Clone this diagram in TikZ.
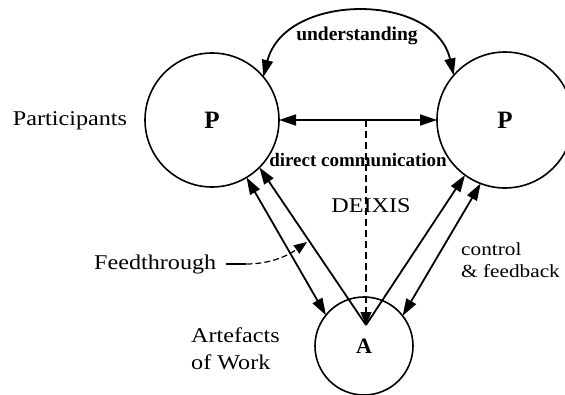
\documentclass[tikz,border=0pt]{standalone}
\usepackage{fontspec}
\setmainfont{Liberation Serif}[FakeStretch=1.15]
\newfontfamily\plainserif{Liberation Serif}
\usetikzlibrary{arrows.meta}
\begin{document}
\begin{tikzpicture}[x=1pt,y=-1pt,
  >={Triangle[length=17pt,width=11pt]},
  circ/.style={circle, draw, line width=1.6pt, inner sep=0pt, outer sep=0pt},
  conn/.style={line width=1.8pt},
  lbl/.style={font=\fontsize{21}{22}\selectfont, inner sep=0pt, anchor=base},
  smalllbl/.style={font=\fontsize{18.5}{20}\selectfont, inner sep=0pt, anchor=base west},
  boldlbl/.style={font=\plainserif\bfseries\fontsize{19.5}{20}\selectfont, inner sep=0pt, anchor=base},
  bigletter/.style={font=\plainserif\bfseries\fontsize{25}{25}\selectfont}
]
\useasboundingbox (0,0) rectangle (565,394);
\clip (0,0) rectangle (565,394);

% circles
\node[circ, minimum size=134pt, bigletter] (PL) at (212,120) {P};
\node[circ, minimum size=136pt, bigletter] (PR) at (505,120) {P};
\node[circ, minimum size=98pt, font=\plainserif\bfseries\fontsize{22}{22}\selectfont] (A) at (364,346) {A};

% helper coordinates
\coordinate (dtop) at (366,120);
\coordinate (deix) at (366,325);
\coordinate (ftend) at (307,242);

% connectors
\draw[conn,<->] (PL.east) -- (PR.west);
\draw[conn,<->] (PL.40) .. controls (285,-8) and (435,-8) .. (PR.139);
\draw[line width=1.1pt, dash pattern=on 7pt off 4pt, -{Triangle[length=13pt,width=11pt]}] (dtop) -- (deix);
\draw[conn,<->] (PL.-59) -- (A.141);
\draw[conn,->] (deix) -- (PL.-45);
\draw[conn,->] (deix) -- (PR.-126);
\draw[conn,<->] (PR.-111) -- (A.38);

% labels
\node[boldlbl] (und) at (357,40) {understanding};
\node[lbl] (part) at (70,125) {Participants};
\node[boldlbl, font=\plainserif\bfseries\fontsize{19}{20}\selectfont] (dc) at (358,166) {direct communication};
\node[lbl] (dx) at (371,212) {DEIXIS};
\node[lbl, anchor=base west] (ft) at (94,269) {Feedthrough};
\node[smalllbl] (cf1) at (461,255) {control};
\node[smalllbl] (cf2) at (461,277) {\& feedback};
\node[lbl, anchor=base west] (aw1) at (191,342) {Artefacts};
\node[lbl, anchor=base west] (aw2) at (191,369) {of Work};

% feedthrough leader
\draw[line width=1.2pt] ([xshift=10pt]ft.east) coordinate (l0) -- ++(20,0) coordinate (l1);
\draw[line width=1.2pt, dash pattern=on 6pt off 3pt, -{Triangle[length=13pt,width=10pt]}] (l1) .. controls (268,264) and (286,257) .. (ftend);
\end{tikzpicture}
\end{document}
